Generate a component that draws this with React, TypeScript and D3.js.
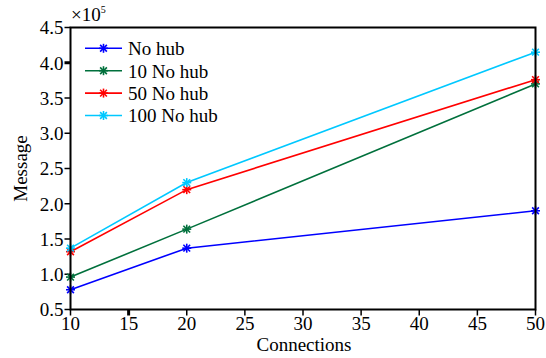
import React from 'react';
import * as d3 from 'd3';

const connections = [10, 20, 50];
const seriesNames = ['No hub', '10 No hub', '50 No hub', '100 No hub'];
const seriesColors = ['#0000ff', '#00703c', '#ff0000', '#00c8ff'];
const noHub = [0.78, 1.37, 1.9];
const hub10 = [0.96, 1.64, 3.7];
const hub50 = [1.32, 2.2, 3.76];
const hub100 = [1.37, 2.3, 4.15];
const xTicks = [10, 15, 20, 25, 30, 35, 40, 45, 50];
const yTicks = [0.5, 1.0, 1.5, 2.0, 2.5, 3.0, 3.5, 4.0, 4.5];

const allSeries = [noHub, hub10, hub50, hub100];

function Star({ x, y, color }: { x: number; y: number; color: string }) {
  const r = 4.5;
  const d = r * 0.75;
  return (
    <g stroke={color} strokeWidth={1.6}>
      <line x1={x - r} y1={y} x2={x + r} y2={y} />
      <line x1={x} y1={y - r} x2={x} y2={y + r} />
      <line x1={x - d} y1={y - d} x2={x + d} y2={y + d} />
      <line x1={x - d} y1={y + d} x2={x + d} y2={y - d} />
    </g>
  );
}

export default function App() {
  const width = 546;
  const height = 358;
  const left = 70.5;
  const right = 535.5;
  const top = 27.5;
  const bottom = 309.5;

  const x = d3.scaleLinear().domain([10, 50]).range([left, right]);
  const y = d3.scaleLinear().domain([0.5, 4.5]).range([bottom, top]);
  const line = d3.line<number>()
    .x((_, i) => x(connections[i]))
    .y(d => y(d));

  const font = "'Liberation Serif', 'Times New Roman', Times, serif";
  const fs = 19;

  return (
    <svg width={width} height={height} style={{ position: 'absolute', left: 0, top: 0, background: '#fff', fontFamily: font }}>
      <rect x={0} y={0} width={width} height={height} fill="#fff" />
      {yTicks.map(t => (
        <g key={'y' + t}>
          <line x1={left - 6} x2={left} y1={y(t)} y2={y(t)} stroke="#000" strokeWidth={t === 4.0 ? 3 : 1.5} />
          <text x={left - 7} y={y(t)} dy="0.36em" textAnchor="end" fontSize={fs}>{t.toFixed(1)}</text>
        </g>
      ))}
      {xTicks.map(t => (
        <g key={'x' + t}>
          <line x1={x(t)} x2={x(t)} y1={bottom} y2={bottom + 6} stroke="#000" strokeWidth={t === 15 ? 3 : 1.5} />
          <text x={x(t)} y={bottom + 20} textAnchor="middle" fontSize={fs}>{t}</text>
        </g>
      ))}
      {allSeries.map((s, i) => (
        <g key={seriesNames[i]}>
          <path d={line(s) || ''} fill="none" stroke={seriesColors[i]} strokeWidth={1.6} />
          {s.map((v, j) => (
            <Star key={j} x={x(connections[j])} y={y(v)} color={seriesColors[i]} />
          ))}
        </g>
      ))}
      <rect x={left} y={top} width={right - left} height={bottom - top} fill="none" stroke="#000" strokeWidth={2} />
      {seriesNames.map((n, i) => {
        const ly = 48.3 + i * 22.4;
        return (
          <g key={'l' + n}>
            <line x1={85} x2={122} y1={ly} y2={ly} stroke={seriesColors[i]} strokeWidth={1.6} />
            <Star x={103.5} y={ly} color={seriesColors[i]} />
            <text x={128} y={ly} dy="0.36em" fontSize={fs}>{n}</text>
          </g>
        );
      })}
      <text x={71} y={21} fontSize={fs}>×10<tspan dy={-8} fontSize={10}>5</tspan></text>
      <text x={304} y={351} textAnchor="middle" fontSize={fs}>Connections</text>
      <text transform={`translate(27,${(top + bottom) / 2}) rotate(-90)`} textAnchor="middle" fontSize={fs}>Message</text>
    </svg>
  );
}
